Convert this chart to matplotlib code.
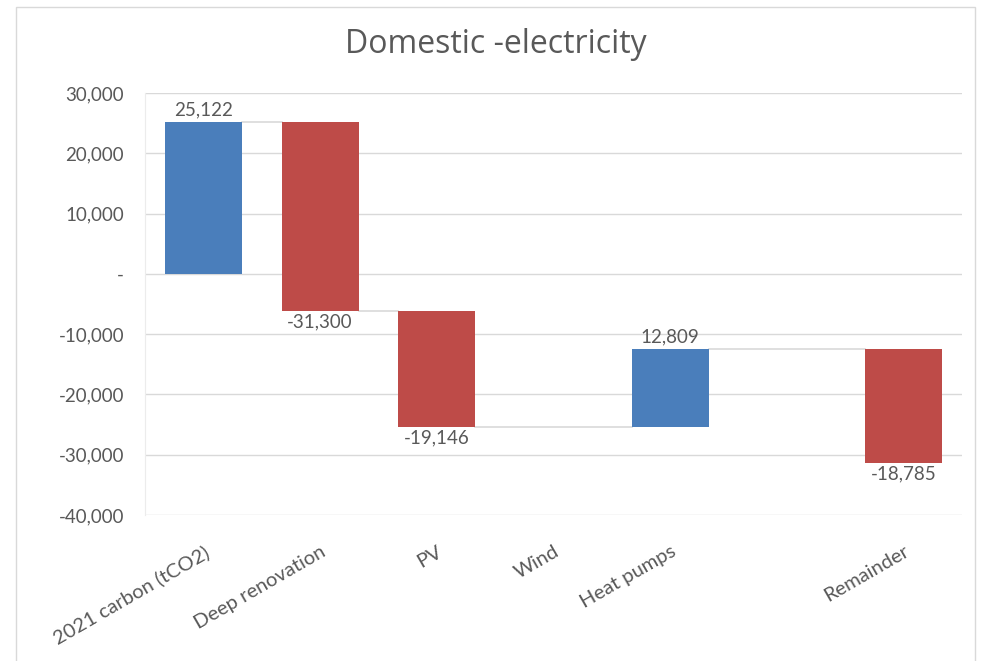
import matplotlib.pyplot as plt
from matplotlib.patches import Rectangle
from matplotlib.ticker import FuncFormatter

# data (tCO2)
categories = ['2021 carbon (tCO2)', 'Deep renovation', 'PV', 'Wind', 'Heat pumps', '', 'Remainder']
changes = [25122, -31300, -19146, 0, 12809, None, -18785]
is_total = [True, False, False, False, False, False, False]

blue = '#4a7ebb'
red = '#be4b48'
grey_txt = '#595959'
grid_col = '#d9d9d9'

plt.rcParams['font.family'] = ['Lato', 'DejaVu Sans']

fig = plt.figure(figsize=(9.82, 6.61), dpi=100)
ax = fig.add_axes([0.1477, 0.2209, 0.8319, 0.6384])

# waterfall
level = 0
prev_level = None
prev_x = None
bw = 0.66
for i, v in enumerate(changes):
    if v is None or v == 0:
        continue
    start = 0 if is_total[i] else level
    end = v if is_total[i] else level + v
    if prev_level is not None:
        ax.plot([prev_x + bw / 2, i - bw / 2], [prev_level, prev_level],
                color=grid_col, lw=1.2, zorder=1)
    col = blue if v > 0 else red
    ax.bar(i, end - start, bottom=start, width=bw, color=col, zorder=2)
    lbl = f'{v:,.0f}'
    if v > 0:
        ax.annotate(lbl, (i, max(start, end)), xytext=(0, 3), textcoords='offset points',
                    ha='center', va='bottom', fontsize=13.5, color=grey_txt)
    else:
        ax.annotate(lbl, (i, min(start, end)), xytext=(0, -2), textcoords='offset points',
                    ha='center', va='top', fontsize=13.5, color=grey_txt)
    level = end
    prev_level = end
    prev_x = i

ax.set_xlim(-0.5, len(categories) - 0.5)
ax.set_ylim(-40000, 30000)
ax.set_yticks(range(-40000, 30001, 10000))
ax.yaxis.set_major_formatter(FuncFormatter(lambda y, p: '-' if y == 0 else f'{y:,.0f}'))
ax.grid(axis='y', color=grid_col, lw=1, zorder=0)
ax.set_axisbelow(True)
for s in ['top', 'right', 'bottom']:
    ax.spines[s].set_visible(False)
ax.spines['left'].set_color('#ececec')
ax.tick_params(axis='y', length=0, pad=15, labelsize=13.5, labelcolor=grey_txt)
ax.tick_params(axis='x', length=0, pad=20)
ax.set_xticks(range(len(categories)))
ax.set_xticklabels(categories, rotation=30, ha='right', va='top', rotation_mode='anchor',
                   fontsize=14.5, color=grey_txt)

fig.text(0.505, 0.932, 'Domestic -electricity', ha='center', va='center',
         fontsize=23, color=grey_txt, family=['Open Sans', 'DejaVu Sans'])

fig.patches.append(Rectangle((16 / 982, -0.01), 959 / 982, 1 - 7 / 661 + 0.01,
                             transform=fig.transFigure, fill=False, ec='#d9d9d9', lw=1))

fig.savefig('out.png', dpi=100)
